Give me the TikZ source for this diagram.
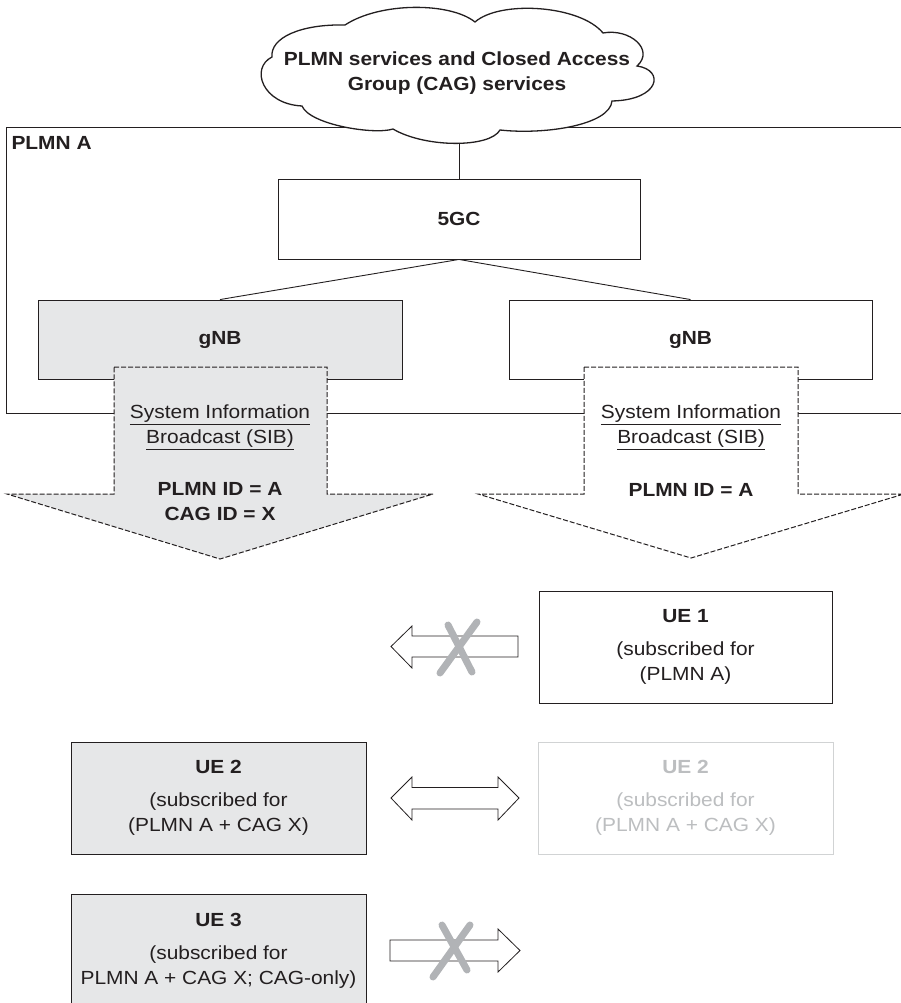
\documentclass[tikz,border=0pt]{standalone}
\usepackage{fontspec}
\setmainfont{Liberation Sans}[FakeStretch=1.1]
\definecolor{ink}{HTML}{231F20}
\definecolor{shade}{HTML}{E6E7E8}
\definecolor{faintline}{HTML}{D1D3D4}
\definecolor{fainttext}{HTML}{BCBEC0}
\definecolor{crossgray}{HTML}{B1B3B6}
\begin{document}
\begin{tikzpicture}[x=1pt,y=-1pt,
  font=\fontsize{19}{25}\selectfont,
  thinline/.style={draw=ink, line width=0.9pt},
  box/.style={draw=ink, line width=0.9pt, inner sep=0pt, align=center, text=ink},
  bigtext/.style={font=\fontsize{19}{25}\selectfont\bfseries, text=ink, align=center},
  sibshape/.style={draw=ink, line width=1pt, dash pattern=on 5pt off 2pt},
  blockarrow/.style={draw=ink, line width=0.8pt, fill=white, line join=miter},
  crossmark/.style={draw=crossgray, line width=7pt, line cap=round},
  uetext/.style={align=center}]
\useasboundingbox (0,0) rectangle (901,1003);
\clip (0,0) rectangle (901,1003);

% PLMN A domain (open to the right)
\draw[thinline] (905,127) -- (6,127) -- (6,413) -- (905,413);
\node[bigtext, anchor=west] (plmnlabel) at (8,143) {PLMN A};

% service cloud
\draw[ink, line width=1.3pt, fill=white]
  (272,57) .. controls (270,38) and (300,24) .. (345,25)
  .. controls (380,2) and (450,2) .. (475,22)
  .. controls (500,0) and (580,5) .. (603,33)
  .. controls (630,28) and (655,50) .. (637,66)
  .. controls (665,70) and (660,100) .. (612,101)
  .. controls (610,125) and (545,135) .. (500,130)
  .. controls (490,148) and (425,148) .. (393,129)
  .. controls (375,135) and (310,125) .. (302,106)
  .. controls (262,104) and (250,68) .. (272,57) -- cycle;
\node[bigtext] (cloudtxt) at (457,73) {PLMN services and Closed Access\\Group (CAG) services};
\coordinate (cloudbottom) at (459,143);

% core and radio nodes
\node[box, minimum width=362pt, minimum height=80pt, font=\fontsize{19}{25}\selectfont\bfseries] (core) at (459,219) {5GC};
\node[box, fill=shade, minimum width=364pt, minimum height=79pt, font=\fontsize{19}{25}\selectfont\bfseries] (gnbL) at (220,339.5) {gNB};
\node[box, fill=white, minimum width=363pt, minimum height=79pt, font=\fontsize{19}{25}\selectfont\bfseries] (gnbR) at (690.5,339.5) {gNB};

\draw[thinline] (cloudbottom) -- (core.north);
\draw[thinline] (core.south) -- (gnbL.north);
\draw[thinline] (core.south) -- (gnbR.north);

% system information broadcast arrows
\draw[sibshape, fill=shade] (114,367) -- (327,367) -- (327,494) -- (433,494) -- (220,559) -- (7,494) -- (114,494) -- cycle;
\draw[sibshape, fill=white] (584,367) -- (798,367) -- (798,494) -- (904,494) -- (691,558) -- (478,494) -- (584,494) -- cycle;

\node[align=center, text=ink] (sibL) at (220,427) {\underline{System Information}\\\underline{Broadcast (SIB)}};
\node[bigtext] (idsL) at (220,502) {PLMN ID = A\\CAG ID = X};
\node[align=center, text=ink] (sibR) at (691,427) {\underline{System Information}\\\underline{Broadcast (SIB)}};
\node[bigtext] (idsR) at (691,490) {PLMN ID = A};

% user equipment
\node[box, fill=white, minimum width=293pt, minimum height=112pt] (ue1) at (685.5,647)
  {\textbf{UE 1}\\[8pt](subscribed for\\(PLMN A)};
\node[box, fill=shade, minimum width=295pt, minimum height=112pt] (ue2) at (218.5,798)
  {\textbf{UE 2}\\[8pt](subscribed for\\(PLMN A + CAG X)};
\node[box, draw=faintline, text=fainttext, fill=white, minimum width=295pt, minimum height=112pt] (ue2b) at (685.5,798)
  {\textbf{UE 2}\\[8pt](subscribed for\\(PLMN A + CAG X)};
\node[box, fill=shade, minimum width=295pt, minimum height=114pt] (ue3) at (218.5,951)
  {\textbf{UE 3}\\[8pt](subscribed for\\PLMN A + CAG X; CAG-only)};

% access arrows
\draw[blockarrow] (391,646.5) -- (412,626) -- (412,636) -- (518,636) -- (518,657) -- (412,657) -- (412,668) -- cycle;
\draw[crossmark] (477,622) -- (440,673);
\draw[crossmark] (448,625) -- (472,672);

\draw[blockarrow] (391,798) -- (412,777) -- (412,787.5) -- (498,787.5) -- (498,777) -- (519,798) -- (498,820) -- (498,809) -- (412,809) -- (412,820) -- cycle;

\draw[blockarrow] (390,940) -- (498,940) -- (498,929) -- (520,950.5) -- (498,972) -- (498,961) -- (390,961) -- cycle;
\draw[crossmark] (470,925) -- (433,977);
\draw[crossmark] (442,925) -- (467,970);
\end{tikzpicture}
\end{document}
